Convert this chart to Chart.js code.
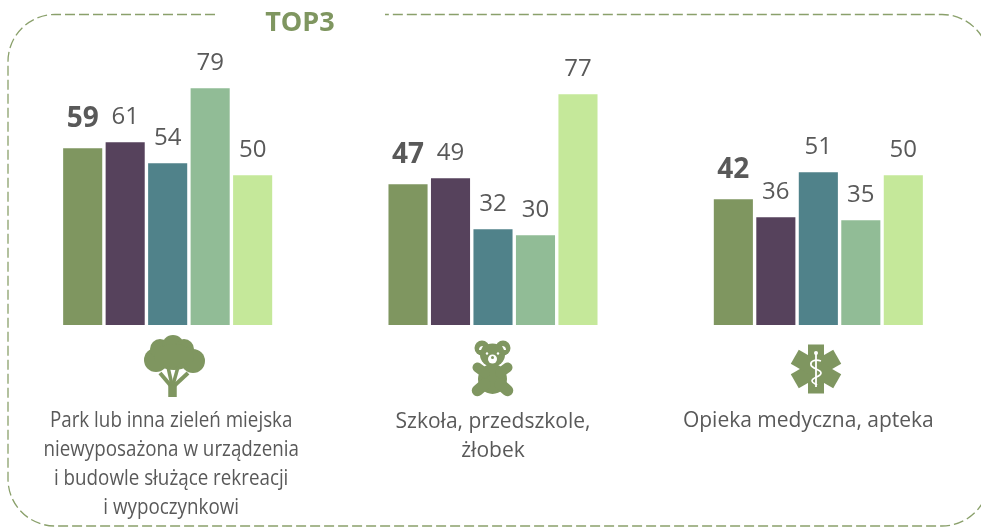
<!DOCTYPE html>
<html lang="pl"><head><meta charset="utf-8">
<style>
html,body{margin:0;padding:0;background:#fff;width:981px;height:528px;overflow:hidden}
#wrap{position:absolute;left:0;top:0;width:981px;height:528px}
canvas{position:absolute;left:0;top:0}
svg{position:absolute;left:0;top:0}
#title{position:absolute;left:230px;width:140px;top:4px;text-align:center;font:bold 27px "Open Sans",sans-serif;color:#7F9660;line-height:34px}
</style>
<script src="https://cdn.jsdelivr.net/npm/chart.js@4"></script>
</head><body>
<div id="wrap">
<svg width="981" height="528" viewBox="0 0 981 528">
<path d="M215 14.500 H55 A47 47 0 0 0 8 61.500 V479 A47 47 0 0 0 55 526 H942 A47 47 0 0 0 989 479 V61.500 A47 47 0 0 0 942 14.500 H385" fill="none" stroke="#8AA06B" stroke-width="1.3" stroke-dasharray="10 4"/>
<g fill="#7F9660">
<circle cx="156" cy="360" r="12"/><circle cx="160" cy="349" r="10"/><circle cx="173" cy="346" r="11"/><circle cx="184" cy="349" r="10"/><circle cx="193" cy="361" r="12"/>
<ellipse cx="174" cy="357" rx="20" ry="13"/>
</g>
<g stroke="#7F9660" fill="none" stroke-linecap="butt">
<path d="M172.500 397 V382" stroke-width="8.500"/>
<path d="M171 386 L160 373" stroke-width="4"/>
<path d="M174 386 L188 373" stroke-width="4"/>
<path d="M172 385 L168 367" stroke-width="3.500"/>
<path d="M173 385 L178 367" stroke-width="3.500"/>
</g>
<g fill="#7F9660">
<circle cx="482" cy="348" r="7.500"/><circle cx="503" cy="348" r="7.500"/>
<ellipse cx="492.500" cy="355" rx="12.500" ry="11.500"/>
<ellipse cx="492.500" cy="379" rx="14.500" ry="15"/>
</g>
<g stroke="#7F9660" fill="none" stroke-linecap="round">
<path d="M485 373 L477.500 367.500 M500 373 L507.500 367.500" stroke-width="10"/>
<path d="M485 384 L477.500 390.500 M500 384 L507.500 390.500" stroke-width="11.500"/>
</g>
<g fill="#fff"><path d="M479 350 a4 4 0 0 1 4 -4 l-2 4 Z M506 350 a4 4 0 0 0 -4 -4 l2 4 Z"/><circle cx="492.500" cy="359" r="4.500"/><circle cx="487" cy="353.500" r="1.200"/><circle cx="498" cy="353.500" r="1.200"/></g>
<circle cx="492.500" cy="357.500" r="1.500" fill="#7F9660"/>
<g fill="#7F9660" transform="translate(816 369)">
<rect x="-8" y="-24.500" width="16" height="49"/>
<rect x="-8" y="-24.500" width="16" height="49" transform="rotate(60)"/>
<rect x="-8" y="-24.500" width="16" height="49" transform="rotate(-60)"/>
</g>
<g fill="none" stroke="#fff" transform="translate(816 369)">
<path d="M0 -16 V18" stroke-width="1.800"/><circle cx="0" cy="-16" r="2" fill="#fff" stroke="none"/>
<path d="M5 -8 C-1 -10 -6 -8 -5 -4 C-4 0 5 0 5 4 C5 8 -4 8 -4 12 C-4 14 0 15 1 16" stroke-width="1.700"/>
</g>
</svg>
<canvas id="c" width="981" height="528"></canvas>
<div id="title">TOP3</div>
</div>
<script>
const categories = [
  ["Park lub inna zieleń miejska","niewyposażona w urządzenia","i budowle służące rekreacji","i wypoczynkowi"],
  ["Szkoła, przedszkole,","żłobek"],
  ["Opieka medyczna, apteka"]
];
const series1 = [59,47,42];
const series2 = [61,49,36];
const series3 = [54,32,51];
const series4 = [79,30,35];
const series5 = [50,77,50];
const seriesColors = ["#7F9660","#56425C","#50828A","#91BC96","#C5E89A"];
const textColor = "#595959";
const fontFamily = '"Open Sans",sans-serif';

const valueLabels = {
  id:"valueLabels",
  afterDatasetsDraw(chart){
    const ctx = chart.ctx;
    ctx.save();
    ctx.textAlign="center"; ctx.textBaseline="middle"; ctx.fillStyle=textColor;
    chart.data.datasets.forEach((ds,i)=>{
      chart.getDatasetMeta(i).data.forEach((bar,j)=>{
        ctx.font=(i===0?"bold 28px ":"24px ")+fontFamily;
        ctx.fillText(String(ds.data[j]),bar.x,bar.y-(i===0?29:25));
      });
    });
    ctx.restore();
  }
};
// Category captions sit slightly off the group centres in the reference; the first is condensed.
const captionStyle = [
  {size:21, stretch:0.895, dx:3.5, y:421, step:29},
  {size:21, stretch:1, dx:0, y:422, step:29},
  {size:21, stretch:1, dx:-10, y:421, step:30}
];
const captions = {
  id:"captions",
  afterDatasetsDraw(chart){
    const ctx = chart.ctx, xs = chart.scales.x;
    ctx.save();
    ctx.textAlign="center"; ctx.textBaseline="middle"; ctx.fillStyle=textColor;
    chart.data.labels.forEach((lines,k)=>{
      const st = captionStyle[k];
      ctx.font = st.size+"px "+fontFamily;
      lines.forEach((t,n)=>{
        ctx.save();
        ctx.translate(xs.getPixelForValue(k)+st.dx, st.y+n*st.step);
        ctx.scale(st.stretch,1);
        ctx.fillText(t,0,0);
        ctx.restore();
      });
    });
    ctx.restore();
  }
};
const allSeries=[series1,series2,series3,series4,series5];
new Chart(document.getElementById("c"),{
  type:"bar",
  data:{labels:categories,datasets:allSeries.map((d,i)=>({label:"Seria "+(i+1),data:d,backgroundColor:seriesColors[i],barPercentage:0.92,categoryPercentage:0.653}))},
  options:{
    responsive:false,animation:false,
    layout:{padding:{left:5,right:0,top:0,bottom:0}},
    plugins:{legend:{display:false},tooltip:{enabled:false}},
    scales:{
      x:{grid:{display:false},border:{display:false},
        ticks:{display:false},
        afterFit(s){s.height=203;s.paddingLeft=0;s.paddingRight=0;}},
      y:{display:false,min:0,max:108.5}
    }
  },
  plugins:[valueLabels,captions]
});
</script>
</body></html>
